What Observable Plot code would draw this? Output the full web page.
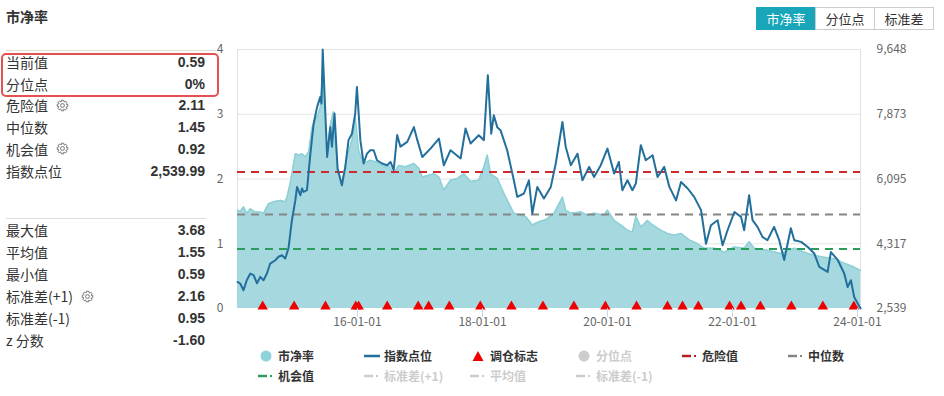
<!DOCTYPE html>
<html><head><meta charset="utf-8">
<script src="https://cdn.jsdelivr.net/npm/d3@7"></script>
<script src="https://cdn.jsdelivr.net/npm/@observablehq/plot@0.6"></script>
<style>
html,body{margin:0;padding:0;background:#fff;}
#root{position:relative;width:944px;height:396px;overflow:hidden;font-family:"Noto Sans CJK SC","Noto Sans",sans-serif;color:#333;}
#chart{position:absolute;left:0;top:0;}
.title{position:absolute;left:6px;top:6px;font-size:14px;font-weight:bold;line-height:20px;}
.row{position:absolute;left:6px;width:199px;height:20px;line-height:20px;font-size:14px;display:flex;align-items:center;}
.row .lab{flex:1;display:flex;align-items:center;white-space:nowrap;}
.row .val{font-family:"Liberation Sans",Arial,sans-serif;font-weight:bold;}
.gear{margin-left:8px;display:block;}
.sep{position:absolute;left:6px;height:1px;background:#ddd;}
.hl{position:absolute;left:1px;top:53px;width:214px;height:40px;border:2px solid #e55050;border-radius:5px;}
.btns{position:absolute;left:757px;top:7px;display:flex;}
.btn{height:21px;line-height:21px;width:58px;text-align:center;font-size:13px;border:1px solid #ccc;margin-left:-1px;background:#fff;color:#333;}
.btn.on{background:#19a5ba;border-color:#19a5ba;color:#fff;}
.lg{position:absolute;font-size:12px;font-weight:bold;line-height:16px;height:16px;white-space:nowrap;}
.lg.off{color:#ccc;}
.ic{position:absolute;line-height:0;}
.ic svg{display:block;}
</style>
</head><body>
<div id="root"></div>
<script>
// ---------- data ----------
const pbDates = ["2014-01-30","2014-02-15","2014-03-06","2014-03-25","2014-04-15","2014-05-14","2014-06-12","2014-07-01","2014-07-31","2014-08-29","2014-10-08","2014-11-05","2014-11-15","2014-12-04","2015-01-03","2015-01-22","2015-02-11","2015-03-02","2015-03-22","2015-04-11","2015-05-10","2015-05-29","2015-06-12","2015-07-07","2015-07-26","2015-08-14","2015-09-03","2015-10-02","2015-10-31","2015-11-30","2015-12-19","2016-01-08","2016-02-06","2016-03-16","2016-04-24","2016-06-03","2016-07-01","2016-07-31","2016-08-29","2016-10-08","2016-11-26","2016-12-26","2017-01-14","2017-02-22","2017-03-23","2017-04-21","2017-05-20","2017-06-28","2017-08-07","2017-09-14","2017-10-23","2017-12-10","2018-01-09","2018-01-29","2018-02-17","2018-03-28","2018-05-06","2018-06-05","2018-07-03","2018-08-12","2018-09-10","2018-10-19","2018-11-27","2019-01-05","2019-02-23","2019-04-13","2019-05-02","2019-06-01","2019-07-30","2019-09-07","2019-10-15","2019-12-13","2020-01-01","2020-02-09","2020-03-18","2020-04-27","2020-05-26","2020-06-15","2020-07-14","2020-08-22","2020-09-21","2020-11-08","2020-12-17","2021-01-25","2021-03-06","2021-04-23","2021-06-11","2021-07-20","2021-09-17","2021-11-15","2022-01-12","2022-03-10","2022-04-08","2022-05-08","2022-07-24","2022-10-11","2022-12-28","2023-03-17","2023-06-02","2023-08-19","2023-10-16","2023-12-13","2024-01-19"];
const pbValues = [1.52,1.50,1.57,1.47,1.54,1.49,1.49,1.47,1.62,1.65,1.67,1.65,1.72,1.93,2.39,2.37,2.39,2.34,2.42,2.80,2.96,3.11,3.68,2.39,2.83,3.04,2.14,1.93,2.34,2.60,2.96,2.44,2.24,2.29,2.26,2.19,2.21,2.08,2.21,2.19,2.24,2.16,2.03,2.06,2.08,2.03,1.83,1.98,2.01,2.08,1.96,1.98,2.19,2.37,2.08,2.01,1.78,1.62,1.47,1.44,1.42,1.29,1.34,1.37,1.47,1.72,1.52,1.47,1.49,1.44,1.47,1.44,1.52,1.36,1.29,1.21,1.18,1.42,1.26,1.36,1.29,1.21,1.16,1.13,1.16,1.06,1.00,0.93,0.93,0.87,0.95,0.93,1.03,0.93,0.90,0.85,0.93,0.85,0.80,0.77,0.70,0.64,0.59];

const idxDates = ["2014-01-30","2014-02-15","2014-03-06","2014-03-25","2014-04-15","2014-05-04","2014-05-24","2014-06-12","2014-07-01","2014-07-21","2014-08-09","2014-09-08","2014-09-27","2014-10-17","2014-11-05","2014-11-24","2014-12-14","2015-01-03","2015-01-13","2015-02-01","2015-02-11","2015-02-20","2015-03-12","2015-04-01","2015-04-20","2015-05-10","2015-05-29","2015-06-05","2015-06-12","2015-07-08","2015-07-26","2015-08-05","2015-08-20","2015-09-07","2015-10-02","2015-10-22","2015-11-10","2015-11-30","2015-12-19","2015-12-29","2016-01-18","2016-02-06","2016-02-26","2016-03-16","2016-04-05","2016-04-24","2016-05-24","2016-06-22","2016-07-12","2016-07-31","2016-08-20","2016-09-08","2016-10-18","2016-11-26","2016-12-16","2017-01-14","2017-03-03","2017-04-21","2017-05-20","2017-06-28","2017-08-26","2017-09-24","2017-10-23","2017-12-10","2018-01-09","2018-02-01","2018-02-21","2018-03-08","2018-03-28","2018-04-16","2018-05-25","2018-07-03","2018-07-23","2018-08-31","2018-09-29","2018-10-19","2018-11-17","2018-12-26","2019-02-04","2019-03-05","2019-04-13","2019-05-02","2019-06-01","2019-07-10","2019-08-08","2019-09-16","2019-10-15","2019-11-23","2020-01-01","2020-02-09","2020-03-08","2020-03-28","2020-04-27","2020-05-26","2020-06-15","2020-07-14","2020-08-12","2020-09-21","2020-10-20","2020-11-28","2020-12-28","2021-02-05","2021-03-06","2021-04-14","2021-05-22","2021-07-01","2021-07-30","2021-08-28","2021-10-06","2021-11-04","2021-12-03","2022-01-12","2022-02-20","2022-03-10","2022-04-08","2022-04-28","2022-05-27","2022-06-25","2022-07-24","2022-09-01","2022-10-01","2022-10-30","2022-12-08","2022-12-28","2023-02-06","2023-03-17","2023-04-24","2023-05-23","2023-07-11","2023-07-30","2023-09-08","2023-10-16","2023-11-05","2023-11-24","2023-12-13","2024-01-19"];
const idxValues = [3268,3225,3041,3316,3500,3453,3232,3407,3316,3500,3774,3865,3960,4002,3911,4192,4963,5507,5877,5649,5833,5740,5787,6789,7618,8067,8349,8166,9648,6698,7517,6982,7893,6379,5923,6426,7160,7338,7893,8619,7160,6520,6789,6884,6884,6609,6520,6472,6561,6341,7301,6982,7112,7517,7160,6698,6929,7205,6472,6884,6657,7479,7068,7296,7160,8940,7338,7844,7517,7434,6884,6058,5603,5696,6058,5147,5877,5560,5877,6520,7659,6982,6472,6789,6058,6426,6150,6472,6929,6244,6561,5787,6058,5787,5969,7023,6609,6747,6150,6426,5877,5507,6014,5833,5603,5240,4317,4825,4963,4277,4688,5188,5054,4688,5649,4963,4779,4505,4414,4779,4414,3872,4743,4414,4368,4229,4048,3682,3543,4088,3872,3500,3126,3316,2858,2540];

const rebalanceDates = ["2014-06-26","2014-12-27","2015-06-28","2015-12-22","2016-01-08","2016-06-23","2016-12-21","2017-02-20","2017-06-21","2017-12-19","2018-06-19","2018-12-20","2019-06-19","2019-12-20","2020-06-19","2020-12-17","2021-03-15","2021-06-15","2021-12-15","2022-02-20","2022-06-13","2022-12-11","2023-06-13","2023-12-11"];

const dangerValue = 2.11, medianValue = 1.45, chanceValue = 0.92;
const pbTicks = [0, 1, 2, 3, 4];
const idxTickLabels = ["2,539", "4,317", "6,095", "7,873", "9,648"];
const idxMin = 2539.99, idxMax = 9648;
const xTickDates = ["2016-01-01", "2018-01-01", "2020-01-01", "2022-01-01", "2024-01-01"];
const xTickLabels = ["16-01-01", "18-01-01", "20-01-01", "22-01-01", "24-01-01"];

const panelLabels1 = ["当前值", "分位点", "危险值", "中位数", "机会值", "指数点位"];
const panelValues1 = ["0.59", "0%", "2.11", "1.45", "0.92", "2,539.99"];
const panelGear1 = [false, false, true, false, true, false];
const panelLabels2 = ["最大值", "平均值", "最小值", "标准差(+1)", "标准差(-1)", "z 分数"];
const panelValues2 = ["3.68", "1.55", "0.59", "2.16", "0.95", "-1.60"];
const panelGear2 = [false, false, false, true, false, false];

const buttonLabels = ["市净率", "分位点", "标准差"];
const legendRow1 = ["市净率", "指数点位", "调仓标志", "分位点", "危险值", "中位数"];
const legendRow2 = ["机会值", "标准差(+1)", "平均值", "标准差(-1)"];

// ---------- build ----------
const pb = pbDates.map((d, i) => ({date: new Date(d), value: pbValues[i]}));
const idx = idxDates.map((d, i) => ({date: new Date(d), value: idxValues[i]}));
const rebal = rebalanceDates.map(d => ({date: new Date(d)}));
const toPB = v => (v - idxMin) / (idxMax - idxMin) * 4;
const xTicks = xTickDates.map(d => new Date(d));

const root = document.getElementById("root");

const chart = Plot.plot({
  width: 944, height: 340,
  marginLeft: 237, marginRight: 84, marginTop: 49, marginBottom: 32,
  x: {type: "utc", domain: [pb[0].date, pb[pb.length - 1].date]},
  y: {domain: [0, 4]},
  style: {fontFamily: "'Noto Sans CJK SC','Noto Sans',sans-serif", fontSize: "12px", color: "#666", background: "transparent", overflow: "visible"},
  marks: [
    Plot.gridY([1, 2, 3, 4], {stroke: "#e4e4e4", strokeOpacity: 1}),
    Plot.ruleX([pb[0].date, pb[pb.length - 1].date], {stroke: "#dde2e8"}),
    Plot.areaY(pb, {x: "date", y: "value", fill: "#a5d9df"}),
    Plot.lineY(pb, {x: "date", y: "value", stroke: "#8ccfd6", strokeWidth: 1.5}),
    Plot.ruleY([dangerValue], {stroke: "#d0292e", strokeWidth: 2, strokeDasharray: "8,6"}),
    Plot.ruleY([medianValue], {stroke: "#858585", strokeWidth: 2, strokeDasharray: "8,6"}),
    Plot.ruleY([chanceValue], {stroke: "#2a9d5c", strokeWidth: 2, strokeDasharray: "8,6"}),
    Plot.lineY(idx, {x: "date", y: d => toPB(d.value), stroke: "#236f9c", strokeWidth: 2}),
    Plot.dot(rebal, {x: "date", y: 0, symbol: "triangle", fill: "#ee0000", r: 3.9, dy: -2}),
    Plot.axisY(pbTicks, {anchor: "left", label: null, tickSize: 0, tickPadding: 14, tickFormat: d => String(d)}),
    Plot.axisY(pbTicks, {anchor: "right", label: null, tickSize: 0, tickPadding: 16, tickFormat: d => idxTickLabels[pbTicks.indexOf(d)]}),
    Plot.axisX(xTicks, {anchor: "bottom", label: null, tickSize: 9, tickPadding: 0, stroke: "#ccd6eb", fill: "#666", tickFormat: d => xTickLabels[xTicks.findIndex(t => +t === +d)]})
  ]
});
chart.id = "chart";
root.appendChild(chart);

function el(tag, cls, style, html) {
  const e = document.createElement(tag);
  if (cls) e.className = cls;
  if (style) e.setAttribute("style", style);
  if (html != null) e.innerHTML = html;
  root.appendChild(e);
  return e;
}
// gear icon outline
function gearPath() {
  const pts = [];
  for (let i = 0; i < 8; i++) {
    const a = i * Math.PI / 4;
    const seg = [[-0.22, 5.4], [0.22, 5.4], [0.36, 4.1], [0.58, 4.1]];
    seg.forEach(([da, r]) => pts.push([r * Math.cos(a + da), r * Math.sin(a + da)]));
  }
  return "M" + pts.map(p => p[0].toFixed(2) + "," + p[1].toFixed(2)).join("L") + "Z";
}
const gearSvg = `<svg class="gear" width="13" height="13" viewBox="-6.5 -6.5 13 13"><path d="${gearPath()}" fill="none" stroke="#777" stroke-width="1"/><circle r="1.9" fill="none" stroke="#777" stroke-width="1"/></svg>`;

el("div", "title", null, "市净率");
el("div", "sep", "top:50px;width:210px;");
el("div", "sep", "top:218px;width:200px;");
el("div", "hl");

panelLabels1.forEach((t, i) => {
  el("div", "row", `top:${52 + i * 21.7}px;`, `<span class="lab">${t}${panelGear1[i] ? gearSvg : ""}</span><span class="val">${panelValues1[i]}</span>`);
});
panelLabels2.forEach((t, i) => {
  el("div", "row", `top:${220 + i * 22}px;`, `<span class="lab">${t}${panelGear2[i] ? gearSvg : ""}</span><span class="val">${panelValues2[i]}</span>`);
});

const btns = el("div", "btns");
buttonLabels.forEach((t, i) => {
  const b = document.createElement("div");
  b.className = "btn" + (i === 0 ? " on" : "");
  b.textContent = t;
  btns.appendChild(b);
});

// legend
const dashIcon = c => `<svg width="16" height="12"><line x1="0" x2="9" y1="6" y2="6" stroke="${c}" stroke-width="2.5"/><rect x="12" y="5" width="2" height="2" fill="${c}"/></svg>`;
const icons1 = [
  '<svg width="12" height="12"><circle cx="6" cy="6" r="5.5" fill="#8ed2da"/></svg>',
  '<svg width="16" height="12"><line x1="0" x2="16" y1="6" y2="6" stroke="#236f9c" stroke-width="2.5"/></svg>',
  '<svg width="12" height="12"><path d="M6,1L11.5,11H0.5Z" fill="#ee0000"/></svg>',
  '<svg width="12" height="12"><circle cx="6" cy="6" r="5.5" fill="#cccccc"/></svg>',
  dashIcon("#b51f24"),
  dashIcon("#858585")
];
const icons2 = [dashIcon("#2a9d5c"), dashIcon("#cccccc"), dashIcon("#cccccc"), dashIcon("#cccccc")];
const off1 = [false, false, false, true, false, false];
const off2 = [false, true, true, true];
const iconW1 = [12, 16, 12, 12, 16, 16];
legendRow1.forEach((t, i) => {
  const tx = 278 + i * 106;
  const ix = tx - 4 - iconW1[i] - (iconW1[i] === 12 ? 2 : 0);
  el("div", "ic", `left:${ix}px;top:350px;`, icons1[i]);
  el("div", "lg" + (off1[i] ? " off" : ""), `left:${tx}px;top:348px;`, t);
});
legendRow2.forEach((t, i) => {
  const tx = 278 + i * 106;
  el("div", "ic", `left:${tx - 20}px;top:370px;`, icons2[i]);
  el("div", "lg" + (off2[i] ? " off" : ""), `left:${tx}px;top:368px;`, t);
});
</script>
</body></html>
